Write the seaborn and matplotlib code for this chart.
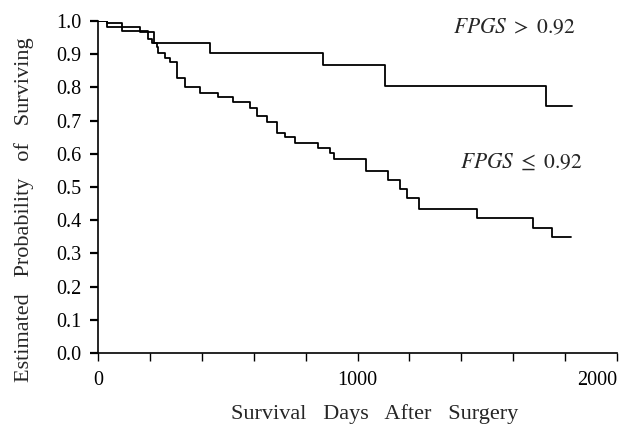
import pandas as pd
import seaborn as sns
import matplotlib.pyplot as plt

# Kaplan-Meier step curves (days, survival probability)
high_days = [0, 33, 91, 162, 215, 432, 866, 1106, 1725, 1825]
high_surv = [1.0, 0.993, 0.982, 0.968, 0.935, 0.905, 0.866, 0.804, 0.744, 0.744]

low_days = [0, 33, 91, 194, 207, 226, 232, 258, 277, 303, 335, 393, 464, 521,
            586, 611, 650, 689, 721, 759, 849, 894, 909, 1031, 1119, 1164,
            1192, 1237, 1459, 1678, 1748, 1822]
low_surv = [1.0, 0.983, 0.970, 0.945, 0.935, 0.923, 0.903, 0.888, 0.877, 0.827,
            0.800, 0.782, 0.772, 0.756, 0.738, 0.714, 0.695, 0.662, 0.651,
            0.633, 0.617, 0.601, 0.585, 0.549, 0.521, 0.494, 0.466, 0.434,
            0.406, 0.377, 0.348, 0.348]

x_ticks = list(range(0, 2001, 200))
x_ticklabels = ['0', '', '', '', '', '1000', '', '', '', '', '2000']
y_ticks = [0.0, 0.1, 0.2, 0.3, 0.4, 0.5, 0.6, 0.7, 0.8, 0.9, 1.0]

df = pd.concat([
    pd.DataFrame({'days': high_days, 'surv': high_surv, 'group': 'high'}),
    pd.DataFrame({'days': low_days, 'surv': low_surv, 'group': 'low'}),
])

sns.set_style('ticks')
plt.rcParams['font.family'] = ['Liberation Serif', 'DejaVu Serif']
plt.rcParams['mathtext.fontset'] = 'stix'

fig = plt.figure(figsize=(6.28, 4.24), dpi=100)
ax = fig.add_axes([98 / 628, 1 - 353 / 424, (617 - 98) / 628, (353 - 21) / 424])

sns.lineplot(data=df, x='days', y='surv', units='group', estimator=None,
             sort=False, drawstyle='steps-post', color='black', linewidth=1.3,
             legend=False, ax=ax)

ax.set_xlim(0, 2000)
ax.set_ylim(0, 1.0)
ax.set_xticks(x_ticks)
ax.set_xticklabels(x_ticklabels, fontsize=14.5)
ax.get_xticklabels()[-1].set_ha('right')
ax.set_yticks(y_ticks)
ax.set_yticklabels([f'{v:.1f}' for v in y_ticks], fontsize=14.5)
ax.tick_params(axis='x', direction='out', length=6, width=1.0, pad=7, colors='black')
ax.tick_params(axis='y', direction='out', length=6, width=1.6, pad=6, colors='black')
ax.set_xlabel('')
ax.set_ylabel('')
sns.despine(ax=ax)
for s in ['left', 'bottom']:
    ax.spines[s].set_linewidth(1.2)
    ax.spines[s].set_color('black')

# wide word gaps, as in the scanned original
fig.text(375 / 628, 1 - 414 / 424, 'Survival   Days   After   Surgery',
         ha='center', va='center', fontsize=16)
fig.text(24 / 628, 1 - 210 / 424, 'Estimated   Probability   of   Surviving',
         ha='center', va='center', rotation=90, fontsize=16)

fig.text(453 / 628, 1 - 28 / 424, r'$FPGS\ >\ 0.92$', ha='left', va='center',
         fontsize=15.5)
fig.text(460 / 628, 1 - 163 / 424, r'$FPGS\ \leq\ 0.92$', ha='left', va='center',
         fontsize=15.5)

fig.savefig('out.png', dpi=100)
